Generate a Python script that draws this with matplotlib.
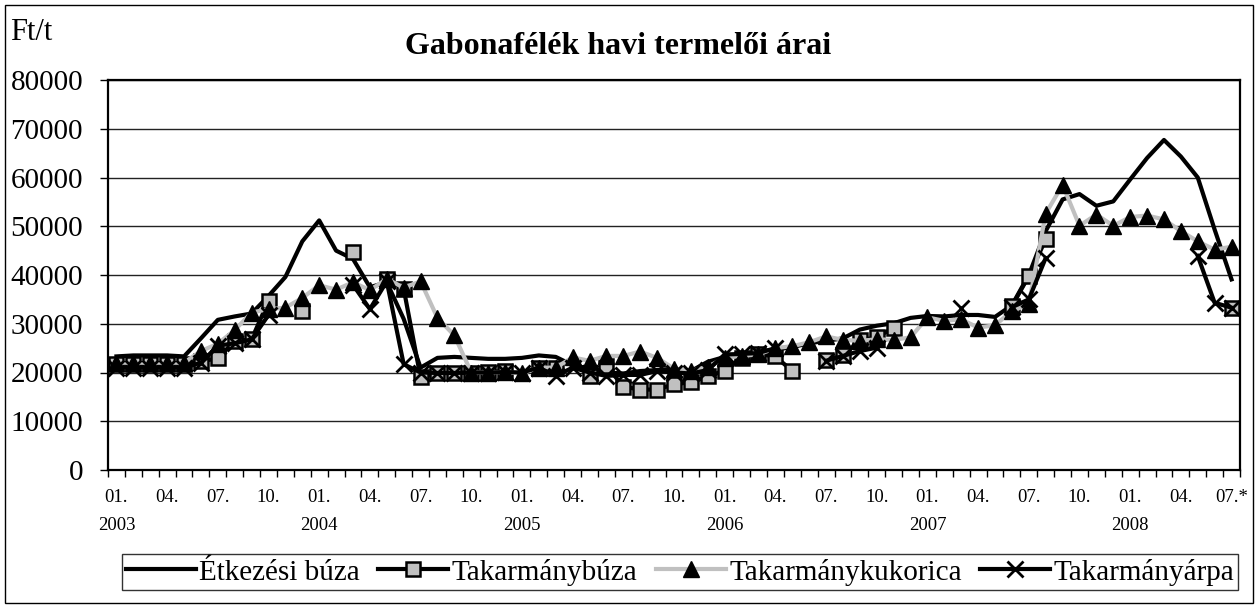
import numpy as np
import matplotlib
matplotlib.use("Agg")
import matplotlib.pyplot as plt
from matplotlib.patches import Rectangle
from matplotlib.ticker import FixedLocator

plt.rcParams['font.family'] = ['Liberation Serif', 'DejaVu Serif']

nan = np.nan

# --- data: monthly producer prices, Ft/t, 2003-01 .. 2008-07 ---------------
months = 67
tick_labels = ['01.', '04.', '07.', '10.'] * 5 + ['01.', '04.', '07.*']
years = ['2003', '2004', '2005', '2006', '2007', '2008']

etkezesi_buza = [
    23300, 23500, 23500, 23500, 23300, 27000, 30800, 31500, 32100, 35700, 39600, 46900,
    51200, 45000, 43300, 37500, 38500, 31000, 21000, 23000, 23200, 23000, 22800, 22800,
    23000, 23500, 23200, 21500, 20800, 20000, 19800, 20300, 20500, 20800, 20300, 22200,
    23200, 23800, 24200, 24700, 25200, 26000, 26500, 27000, 28800, 29600, 30100, 31200,
    31600, 31500, 31800, 31800, 31400, 33800, 40000, 49000, 55500, 56600, 54200, 55100,
    59600, 64000, 67700, 64300, 60000, 49300, 39100]

takarmanybuza = [
    21800, 21800, 21700, 21800, 21800, 22300, 22900, 26500, 26800, 34700, nan, 32600,
    nan, nan, 44700, nan, 39100, 37200, 19000, 19900, 19900, 20000, 20100, 20300,
    nan, 21000, 21000, nan, 19300, 21400, 17100, 16500, 16500, 17600, 18000, 19200,
    20400, 23000, 23800, 23300, 20300, nan, 22500, 23500, 26600, 27200, 29200, nan,
    nan, nan, nan, nan, nan, 33600, 39800, 47300, nan, nan, nan, nan,
    nan, nan, nan, nan, nan, nan, 33300]

takarmanykukorica = [
    22000, 22000, 22000, 22000, 22000, 24400, 25900, 28700, 32300, 33000, 33300, 35300,
    37900, 37000, 38500, 36900, 39200, 37400, 38700, 31200, 27600, 20000, 20000, 20100,
    19800, 21000, 21000, 23100, 22400, 23400, 23400, 24300, 23000, 20800, 20300, 21200,
    23000, 23400, 23700, 25000, 25400, 26200, 27400, 26700, 26500, 26800, 26700, 27200,
    31300, 30600, 30900, 29200, 29700, 32600, 34000, 52600, 58500, 50100, 52400, 50100,
    51900, 52200, 51400, 49000, 46900, 45200, 45800]

takarmanyarpa = [
    21000, 21000, 21000, 21000, 21000, 22000, 25500, 26000, 26800, 31800, nan, nan,
    nan, nan, 38000, 33000, 38700, 21700, 20000, 19900, 19900, 20000, 20000, 20100,
    20000, 21000, 19300, 21000, 20000, 19300, 19500, 19500, 20300, 20000, 19800, 20500,
    23700, 23800, 24000, 25000, nan, nan, 22400, 23400, 24400, 25100, nan, nan,
    nan, nan, 33300, nan, nan, 33400, 35000, 43500, nan, nan, nan, nan,
    nan, nan, nan, nan, 43900, 34300, 33300]

x = np.arange(months)
GRAY = '#C0C0C0'

fig = plt.figure(figsize=(12.59, 6.08), dpi=100)
ax = fig.add_axes([108/1259, 1 - 470/608, (1240 - 108)/1259, (470 - 80)/608])

ax.plot(x, etkezesi_buza, color='black', lw=3, label='Étkezési búza', zorder=3)
ax.plot(x, takarmanybuza, color='black', lw=3, marker='s', ms=10,
        mfc=GRAY, mec='black', mew=1.8, label='Takarmánybúza', zorder=4)
ax.plot(x, takarmanykukorica, color=GRAY, lw=3, marker='^', ms=11,
        mfc='black', mec='black', label='Takarmánykukorica', zorder=5)
ax.plot(x, takarmanyarpa, color='black', lw=3, marker='x', ms=11,
        mew=2, label='Takarmányárpa', zorder=6)

ax.set_ylim(0, 80000)
ax.set_xlim(-0.5, months - 0.5)
ax.set_yticks(np.arange(0, 80001, 10000))
ax.yaxis.grid(True, color='#222222', lw=1)
ax.set_axisbelow(True)
for s in ax.spines.values():
    s.set_linewidth(1.6)

ax.tick_params(axis='y', labelsize=21, direction='out', length=6, width=1, pad=12)
ax.set_xticks(np.arange(0, months, 3))
ax.set_xticklabels(tick_labels)
ax.xaxis.set_minor_locator(FixedLocator(np.arange(-0.5, months, 1)))
ax.tick_params(axis='x', which='major', length=0, labelsize=13.5, pad=14)
ax.tick_params(axis='x', which='minor', length=5, width=1, direction='out')

for k, yr in enumerate(years):
    ax.text(12 * k, -0.143, yr, transform=ax.get_xaxis_transform(),
            ha='center', va='center', fontsize=13.5)

fig.text(618/1259, 1 - 47/608, 'Gabonafélék havi termelői árai',
         ha='center', va='center', fontsize=23, fontweight='bold')
fig.text(10/1259, 1 - 33/608, 'Ft/t', ha='left', va='center', fontsize=22)

leg = fig.legend(loc='center', bbox_to_anchor=(680/1259, 1 - 572/608), ncol=4,
                 fontsize=21, frameon=True, fancybox=False, edgecolor='black',
                 handlelength=2.4, handletextpad=0.12, columnspacing=0.62,
                 borderpad=0.15, numpoints=1)
leg.get_frame().set_linewidth(1)

fig.patches.append(Rectangle((5/1259, 5/608), 1248/1259, 598/608, transform=fig.transFigure,
                             fill=False, edgecolor='black', lw=1))

fig.savefig('out.png', dpi=100)
